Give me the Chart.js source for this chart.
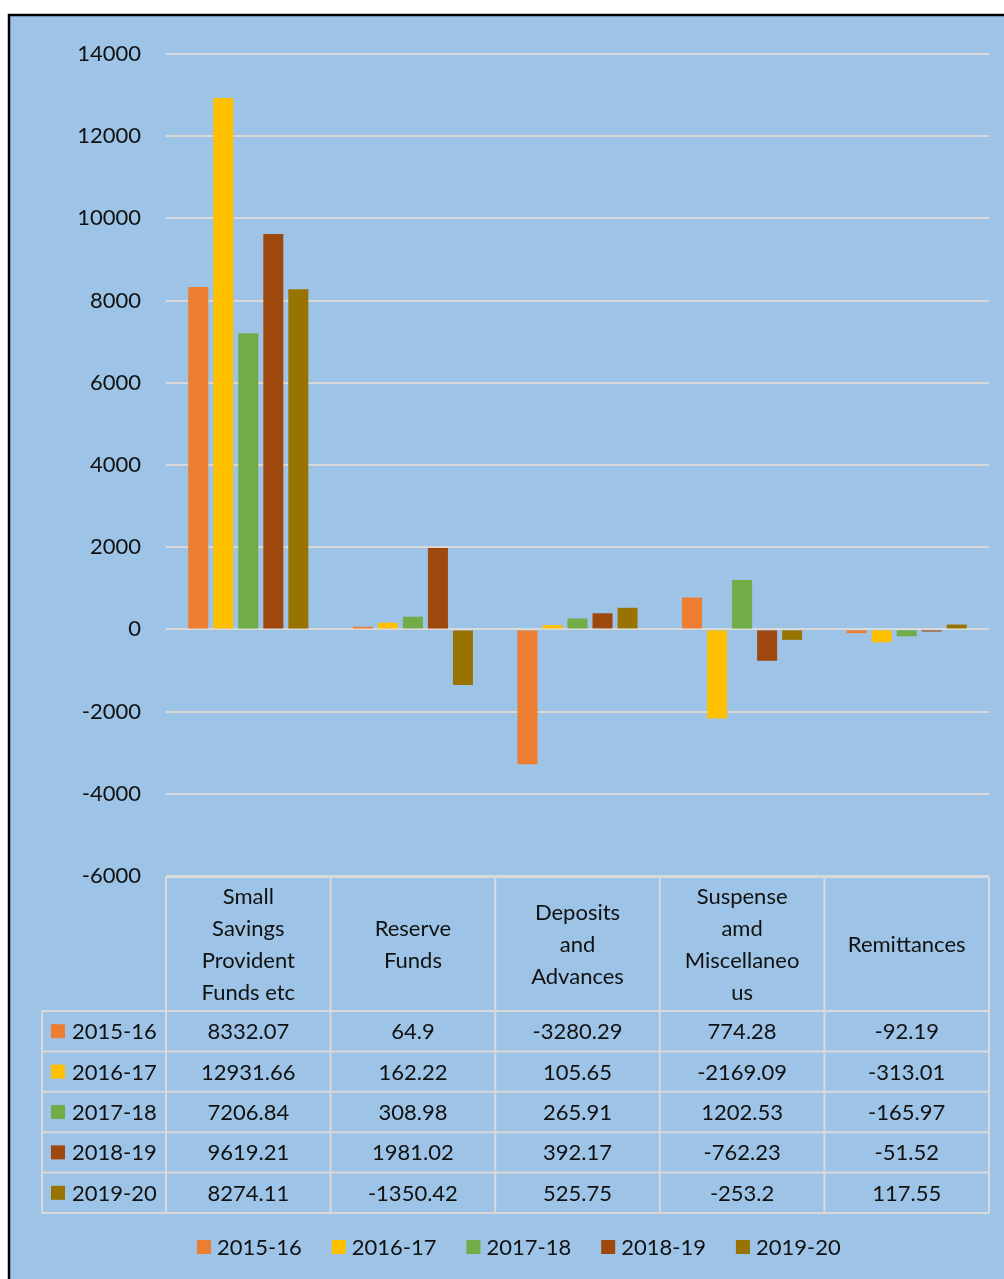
<!DOCTYPE html>
<html><head><meta charset="utf-8">
<script src="https://cdn.jsdelivr.net/npm/chart.js@4.4.1/dist/chart.umd.min.js"></script>
<style>html,body{margin:0;padding:0;background:#fff;overflow:hidden}#wrap{width:1004px;height:1279px}</style>
</head><body><div id="wrap"><canvas id="c" width="1004" height="1279"></canvas></div>
<script>
const categories = [["Small","Savings","Provident","Funds etc"],["Reserve","Funds"],["Deposits","and","Advances"],["Suspense","amd","Miscellaneo","us"],["Remittances"]];
const seriesNames = ["2015-16","2016-17","2017-18","2018-19","2019-20"];
const values2015 = [8332.07, 64.9, -3280.29, 774.28, -92.19];
const values2016 = [12931.66, 162.22, 105.65, -2169.09, -313.01];
const values2017 = [7206.84, 308.98, 265.91, 1202.53, -165.97];
const values2018 = [9619.21, 1981.02, 392.17, -762.23, -51.52];
const values2019 = [8274.11, -1350.42, 525.75, -253.2, 117.55];
const seriesColors = ["#ED7D31","#FFC000","#70AD47","#9E480E","#997300"];
const yMin = -6000, yMax = 14000, yStep = 2000;

const FONT = "Lato, 'Noto Sans', sans-serif";
const TXT = "#111111";
const GRID = "#D9D9D9";

const allValues = [values2015, values2016, values2017, values2018, values2019];

const framePlugin = {
  id: 'frame',
  beforeDraw(chart) {
    const ctx = chart.ctx;
    ctx.save();
    ctx.fillStyle = '#ffffff';
    ctx.fillRect(0, 0, chart.width, chart.height);
    ctx.fillStyle = '#9DC3E6';
    ctx.fillRect(9, 15, chart.width, chart.height);
    ctx.strokeStyle = '#000';
    ctx.lineWidth = 2.5;
    ctx.strokeRect(9, 15, chart.width + 20, chart.height + 20);
    ctx.restore();
  },
  afterDraw(chart) {
    const ctx = chart.ctx;
    const xs = chart.scales.x;
    const ca = chart.chartArea;
    const n = categories.length;
    const w = (xs.right - xs.left) / n;
    const top = ca.bottom + 1;
    const headerH = 134;
    const rowH = 40.4;
    const labelLeft = 42;
    const bottom = top + headerH + rowH * seriesNames.length;
    ctx.save();
    ctx.strokeStyle = GRID;
    ctx.lineWidth = 2;
    const line = (x1, y1, x2, y2) => { ctx.beginPath(); ctx.moveTo(x1, y1); ctx.lineTo(x2, y2); ctx.stroke(); };
    line(xs.left, top, xs.right, top);
    for (let r = 0; r <= seriesNames.length; r++) {
      const y = top + headerH + r * rowH;
      line(labelLeft, y, xs.right, y);
    }
    for (let i = 0; i <= n; i++) {
      const x = xs.left + i * w;
      line(x, top, x, bottom);
    }
    line(labelLeft, top + headerH, labelLeft, bottom);

    ctx.fillStyle = TXT;
    ctx.font = "22px " + FONT;
    ctx.textAlign = 'center';
    ctx.textBaseline = 'middle';
    for (let i = 0; i < n; i++) {
      const cx = xs.getPixelForValue(i);
      const lines = categories[i];
      const cy = top + headerH / 2 + 1;
      const lh = 32;
      const start = cy - (lines.length - 1) * lh / 2;
      lines.forEach((t, k) => ctx.fillText(t, cx, start + k * lh));
    }
    for (let r = 0; r < seriesNames.length; r++) {
      const cy = top + headerH + r * rowH + rowH / 2 + 1;
      ctx.fillStyle = seriesColors[r];
      ctx.fillRect(51, cy - 8, 14, 14);
      ctx.fillStyle = TXT;
      ctx.textAlign = 'left';
      ctx.fillText(seriesNames[r], 72, cy);
      ctx.textAlign = 'center';
      for (let i = 0; i < n; i++) {
        ctx.fillText(String(allValues[r][i]), xs.getPixelForValue(i), cy);
      }
    }
    const ly = 1248;
    let lx = 197;
    ctx.textAlign = 'left';
    for (let r = 0; r < seriesNames.length; r++) {
      ctx.fillStyle = seriesColors[r];
      ctx.fillRect(lx, ly - 8, 14, 14);
      ctx.fillStyle = TXT;
      ctx.fillText(seriesNames[r], lx + 20, ly);
      lx += 20 + ctx.measureText(seriesNames[r]).width + 30;
    }
    ctx.restore();
  }
};

new Chart(document.getElementById('c'), {
  type: 'bar',
  data: {
    labels: categories.map(c => c.join(' ')),
    datasets: seriesNames.map((name, i) => ({
      label: name,
      data: allValues[i],
      backgroundColor: seriesColors[i],
      borderWidth: 0,
      barPercentage: 0.8,
      categoryPercentage: 0.76
    }))
  },
  options: {
    responsive: false,
    animation: false,
    devicePixelRatio: 1,
    layout: { padding: { left: 0, right: 15, top: 54, bottom: 403 } },
    plugins: { legend: { display: false }, tooltip: { enabled: false } },
    scales: {
      x: { display: false, grid: { display: false } },
      y: {
        min: yMin, max: yMax,
        afterFit: s => { s.width = 166; },
        border: { display: false },
        grid: { color: GRID, lineWidth: 2, drawTicks: false },
        ticks: {
          stepSize: yStep, padding: 25, color: TXT,
          font: { family: FONT, size: 22 },
          callback: v => String(v)
        }
      }
    }
  },
  plugins: [framePlugin]
});
</script></body></html>
